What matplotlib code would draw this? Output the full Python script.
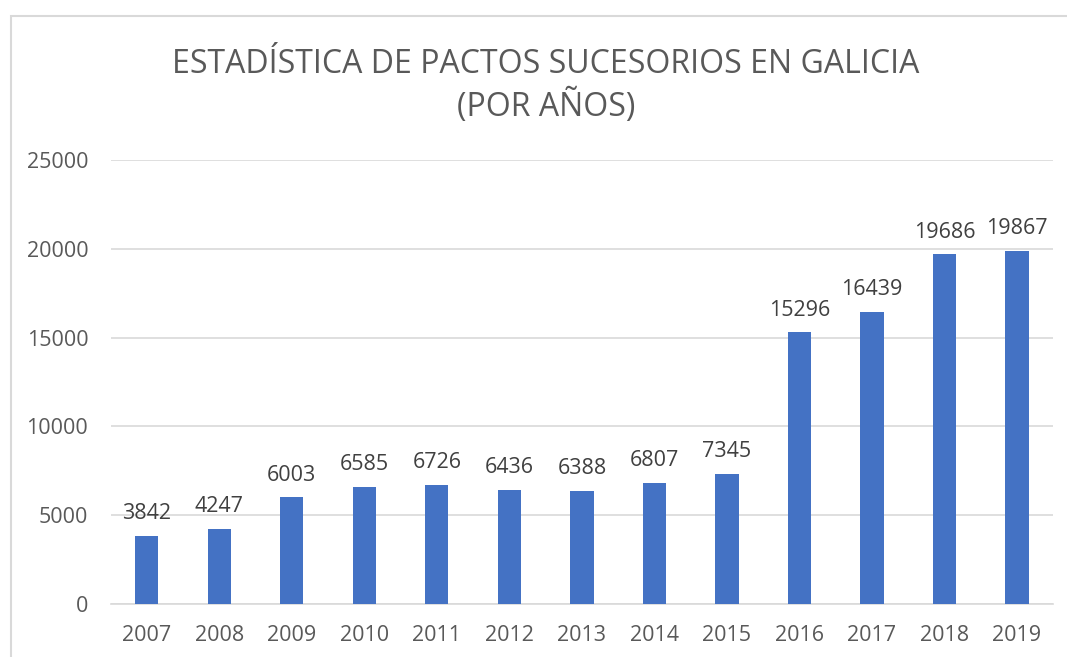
import matplotlib
matplotlib.use("Agg")
import matplotlib.pyplot as plt
from matplotlib.patches import Rectangle

# data
years = ['2007', '2008', '2009', '2010', '2011', '2012', '2013',
         '2014', '2015', '2016', '2017', '2018', '2019']
pactos = [3842, 4247, 6003, 6585, 6726, 6436, 6388,
          6807, 7345, 15296, 16439, 19686, 19867]
y_ticks = [0, 5000, 10000, 15000, 20000, 25000]

title = 'ESTADÍSTICA DE PACTOS SUCESORIOS EN GALICIA\n(POR AÑOS)'

plt.rcParams['font.family'] = ['Open Sans', 'DejaVu Sans']

W, H = 1067, 657
fig = plt.figure(figsize=(W / 100, H / 100), dpi=100)

# chart frame (cut off at the right and bottom like in the screenshot)
frame = Rectangle((11 / W, -0.1), 1.2, 1 - 16 / H + 0.1, transform=fig.transFigure,
                  fill=False, edgecolor='#d9d9d9', linewidth=1.5)
fig.patches.append(frame)

ax = fig.add_axes([110.5 / W, 1 - 604 / H, (1053.3 - 110.5) / W, (604 - 160) / H])

xs = range(len(years))
bars = ax.bar(xs, pactos, width=0.32, color='#4472C4', zorder=3)

for x, v in zip(xs, pactos):
    ax.annotate(str(v), (x, v), xytext=(0, 8.5), textcoords='offset points',
                ha='center', va='bottom', fontsize=15.5, color='#404040')

ax.set_xlim(-0.5, len(years) - 0.5)
ax.set_ylim(0, 25000)
ax.set_yticks(y_ticks)
ax.set_yticklabels([str(t) for t in y_ticks])
ax.set_xticks(list(xs))
ax.set_xticklabels(years)
ax.tick_params(axis='both', length=0, labelsize=15.5, colors='#595959')
ax.tick_params(axis='y', pad=16)
ax.tick_params(axis='x', pad=15)
ax.grid(axis='y', color='#d9d9d9', linewidth=1.2, zorder=0)
for side in ['top', 'right', 'left']:
    ax.spines[side].set_visible(False)
ax.spines['bottom'].set_color('#d9d9d9')
ax.spines['bottom'].set_linewidth(1.2)

fig.text(546 / W, 1 - 86 / H, title, ha='center', va='center',
         fontsize=23, color='#595959', linespacing=1.25)

fig.savefig('out.png', dpi=100)
